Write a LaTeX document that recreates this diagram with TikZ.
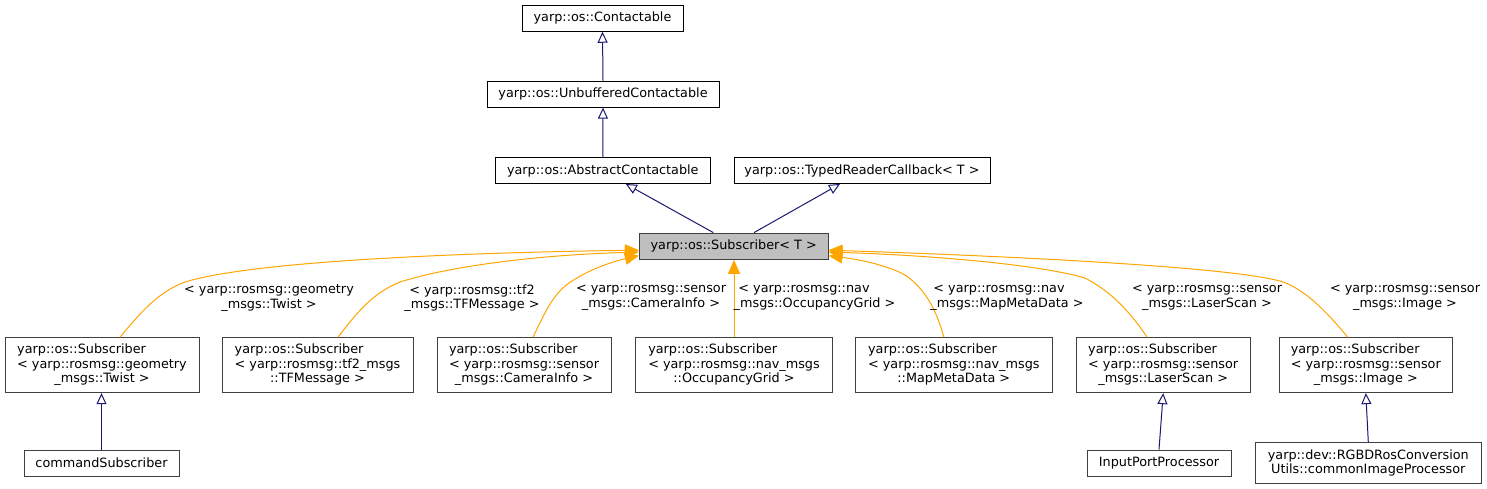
\documentclass[tikz,border=0pt]{standalone}
\usepackage{fontspec}
\setmainfont{DejaVu Sans}
\usetikzlibrary{arrows.meta,calc}
\definecolor{edgeblue}{HTML}{191970}
\definecolor{tmplorange}{HTML}{FFA500}
\definecolor{boxgray}{HTML}{404040}
\definecolor{subfill}{HTML}{BFBFBF}
\newcommand\twoleftone[3]{\begin{tabular}{@{}c@{}}\begin{tabular}{@{}l@{}}#1\\#2\end{tabular}\\#3\end{tabular}}
\begin{document}
\begin{tikzpicture}[x=1pt,y=-1pt,
  font=\fontsize{12.8}{14.6}\selectfont,
  cls/.style={draw=black,line width=0.9pt,fill=white,inner sep=0pt,minimum height=26pt},
  lowcls/.style={draw=boxgray,line width=0.9pt,fill=white,inner sep=0pt,align=center},
  inh/.style={draw=edgeblue,line width=1pt,-{Triangle[open,length=11pt,width=10pt,fill=white]}},
  tmpl/.style={draw=tmplorange,line width=1pt,-{Triangle[length=14pt,width=12pt]}},
  elab/.style={align=center,inner sep=0pt}]
\useasboundingbox (0,0) rectangle (1487,489);
% top nodes
\node[cls,minimum width=161pt] (contact) at (602.5,18.3) {yarp::os::Contactable};
\node[cls,minimum width=232pt] (unbuf) at (603,94.2) {yarp::os::UnbufferedContactable};
\node[cls,minimum width=215.7pt] (abstr) at (602.8,170.5) {yarp::os::AbstractContactable};
\node[cls,minimum width=256pt] (typed) at (862,170.5) {yarp::os::TypedReaderCallback< T >};
\node[cls,draw=boxgray,fill=subfill,minimum width=188.7pt,minimum height=26.3pt] (sub) at (733.7,246.2) {yarp::os::Subscriber< T >};
% row of instances
\node[lowcls,minimum width=194pt,minimum height=55pt] (twist) at (102,365.2) {\twoleftone{yarp::os::Subscriber}{< yarp::rosmsg::geometry}{\_msgs::Twist >}};
\node[lowcls,minimum width=191pt,minimum height=55pt] (tf) at (317.5,365.2) {\twoleftone{yarp::os::Subscriber}{< yarp::rosmsg::tf2\_msgs}{::TFMessage >}};
\node[lowcls,minimum width=174pt,minimum height=55pt] (cam) at (524,365.2) {\twoleftone{yarp::os::Subscriber}{< yarp::rosmsg::sensor}{\_msgs::CameraInfo >}};
\node[lowcls,minimum width=196.6pt,minimum height=55pt] (occ) at (734,365.2) {\twoleftone{yarp::os::Subscriber}{< yarp::rosmsg::nav\_msgs}{::OccupancyGrid >}};
\node[lowcls,minimum width=196.3pt,minimum height=55pt] (map) at (953.8,365.2) {\twoleftone{yarp::os::Subscriber}{< yarp::rosmsg::nav\_msgs}{::MapMetaData >}};
\node[lowcls,minimum width=173.7pt,minimum height=55pt] (laser) at (1163.2,365.2) {\twoleftone{yarp::os::Subscriber}{< yarp::rosmsg::sensor}{\_msgs::LaserScan >}};
\node[lowcls,minimum width=173.7pt,minimum height=55pt] (image) at (1365.8,365.2) {\twoleftone{yarp::os::Subscriber}{< yarp::rosmsg::sensor}{\_msgs::Image >}};
% bottom row
\node[lowcls,minimum width=155pt,minimum height=26pt] (cmd) at (101.5,463) {commandSubscriber};
\node[lowcls,minimum width=144pt,minimum height=26pt] (ipp) at (1159,463) {InputPortProcessor};
\node[lowcls,minimum width=225.3pt,minimum height=40.3pt] (rgbd) at (1368.3,462.8) {yarp::dev::RGBDRosConversion\\Utils::commonImageProcessor};
% inheritance edges
\draw[inh] (unbuf.north) -- (contact.south);
\draw[inh] (abstr.north) -- (unbuf.south);
\draw[inh] ($(sub.north)+(-20.4,0)$) -- ($(abstr.south)+(23,0)$);
\draw[inh] ($(sub.north)+(20.3,0)$) -- ($(typed.south)+(-22,0)$);
\draw[inh] (cmd.north) -- (cmd.north |- twist.south);
\draw[inh] (ipp.north) -- (laser.south);
\draw[inh] (rgbd.north) -- (image.south);
% template edges
\draw[tmpl] ($(twist.north)+(18,0)$) .. controls (140,313) and (158,292) .. (185,282)
  .. controls (260,259) and (500,252) .. ($(sub.west)+(0,4)$);
\draw[tmpl] ($(tf.north)+(20.5,0)$) .. controls (355,315) and (372,293) .. (400,282)
  .. controls (460,263) and (560,254) .. ($(sub.west)+(0,6)$);
\draw[tmpl] ($(cam.north)+(9,0)$) .. controls (545,312) and (554,292) .. (572,281)
  .. controls (592,268) and (615,261) .. ($(sub.west)+(0,9.5)$);
\draw[tmpl] (occ.north) -- (occ.north |- sub.south);
\draw[tmpl] ($(map.north)+(-10,0)$) .. controls (936,308) and (924,288) .. (905,275)
  .. controls (885,264) and (855,259) .. ($(sub.east)+(0,9.5)$);
\draw[tmpl] ($(laser.north)+(-16,0)$) .. controls (1130,312) and (1112,292) .. (1085,278)
  .. controls (1030,262) and (900,254) .. ($(sub.east)+(0,6)$);
\draw[tmpl] ($(image.north)+(-18,0)$) .. controls (1330,316) and (1308,291) .. (1283,282)
  .. controls (1230,265) and (950,254) .. ($(sub.east)+(0,4)$);
% edge labels
\node[elab] (ltwist) at (269,298) {< yarp::rosmsg::geometry\\\_msgs::Twist >};
\node[elab] (ltf) at (472,298) {< yarp::rosmsg::tf2\\\_msgs::TFMessage >};
\node[elab] (lcam) at (651,298) {< yarp::rosmsg::sensor\\\_msgs::CameraInfo >};
\node[elab] (locc) at (814.5,298) {\hspace*{-21pt}< yarp::rosmsg::nav\\\_msgs::OccupancyGrid >};
\node[elab] (lmap) at (1007,298) {\hspace*{-16pt}< yarp::rosmsg::nav\\\_msgs::MapMetaData >};
\node[elab] (llaser) at (1207,298) {< yarp::rosmsg::sensor\\\_msgs::LaserScan >};
\node[elab] (limage) at (1405,298) {< yarp::rosmsg::sensor\\\_msgs::Image >};
\end{tikzpicture}
\end{document}
